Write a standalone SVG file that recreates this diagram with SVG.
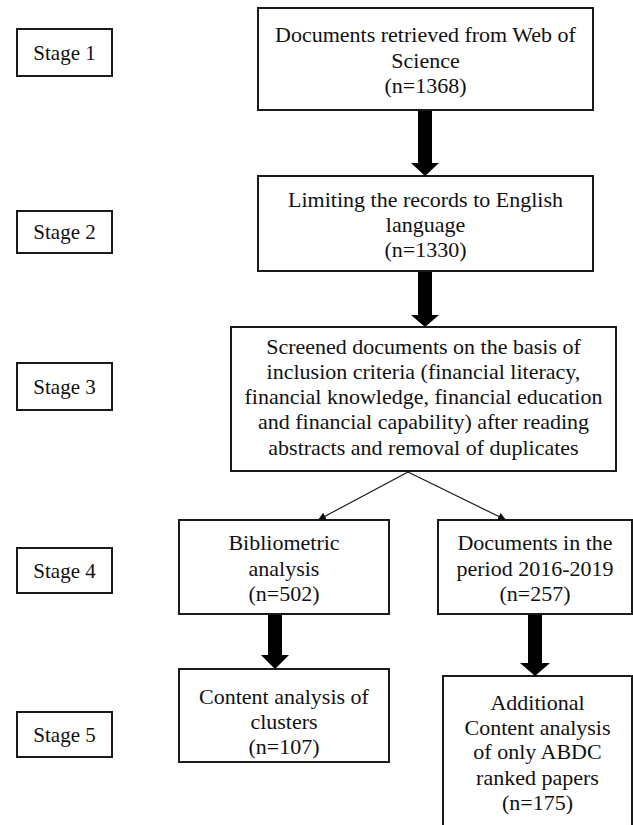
<svg xmlns="http://www.w3.org/2000/svg" width="633" height="825" viewBox="0 0 633 825">
<defs>
<style>
.box{fill:#fff;stroke:#1a1a1a;stroke-width:2}
.t{font-family:"Liberation Serif","Times New Roman",serif;font-size:22px;fill:#111;text-anchor:middle}
.s{font-family:"Liberation Serif","Times New Roman",serif;font-size:21px;fill:#111;text-anchor:middle}
.thin{stroke:#1a1a1a;stroke-width:1.2;fill:none}
</style>
<marker id="tri" viewBox="0 0 10 10" refX="10" refY="5" markerWidth="8" markerHeight="8" orient="auto" markerUnits="userSpaceOnUse">
<path d="M0,0 L10,5 L0,10 z" fill="#111"/>
</marker>
</defs>
<rect width="633" height="825" fill="#fff"/>

<g id="stage1"><rect class="box" x="17" y="29" width="95" height="47"/><text class="s" x="64.5" y="60">Stage 1</text></g>
<g id="stage2"><rect class="box" x="17" y="211" width="95" height="42"/><text class="s" x="64.5" y="239">Stage 2</text></g>
<g id="stage3"><rect class="box" x="17" y="363" width="95" height="47"/><text class="s" x="64.5" y="394">Stage 3</text></g>
<g id="stage4"><rect class="box" x="17" y="548" width="95" height="45"/><text class="s" x="64.5" y="578">Stage 4</text></g>
<g id="stage5"><rect class="box" x="17" y="712" width="95" height="45"/><text class="s" x="64.5" y="742">Stage 5</text></g>

<g id="n1"><rect class="box" x="258" y="8" width="335" height="102"/>
<text class="t" x="425.5" y="42">Documents retrieved from Web of</text>
<text class="t" x="425.5" y="68">Science</text>
<text class="t" x="425.5" y="93">(n=1368)</text></g>

<g id="n2"><rect class="box" x="258" y="176" width="335" height="95"/>
<text class="t" x="425.5" y="207">Limiting the records to English</text>
<text class="t" x="425.5" y="232">language</text>
<text class="t" x="425.5" y="257">(n=1330)</text></g>

<g id="n3"><rect class="box" x="231" y="327" width="385" height="144"/>
<text class="t" x="423.5" y="354">Screened documents on the basis of</text>
<text class="t" x="423.5" y="379">inclusion criteria (financial literacy,</text>
<text class="t" x="423.5" y="404">financial knowledge, financial education</text>
<text class="t" x="423.5" y="429">and financial capability) after reading</text>
<text class="t" x="423.5" y="455">abstracts and removal of duplicates</text></g>

<g id="n4a"><rect class="box" x="179" y="520" width="210" height="94"/>
<text class="t" x="284" y="550">Bibliometric</text>
<text class="t" x="284" y="576">analysis</text>
<text class="t" x="284" y="601">(n=502)</text></g>

<g id="n4b"><rect class="box" x="438" y="520" width="194" height="94"/>
<text class="t" x="535" y="550">Documents in the</text>
<text class="t" x="535" y="576">period 2016-2019</text>
<text class="t" x="535" y="601">(n=257)</text></g>

<g id="n5a"><rect class="box" x="179" y="669" width="210" height="93"/>
<text class="t" x="284" y="704">Content analysis of</text>
<text class="t" x="284" y="729">clusters</text>
<text class="t" x="284" y="754">(n=107)</text></g>

<g id="n5b"><rect class="box" x="443" y="676" width="189" height="170"/>
<text class="t" x="537.5" y="710">Additional</text>
<text class="t" x="537.5" y="735">Content analysis</text>
<text class="t" x="537.5" y="759">of only ABDC</text>
<text class="t" x="537.5" y="785">ranked papers</text>
<text class="t" x="537.5" y="810">(n=175)</text></g>

<g id="connectors" fill="#000">
<path d="M418,111 H432 V163 H439 L425,176 L411,163 H418 Z"/>
<path d="M418,272 H432 V315 H439 L425,327 L411,315 H418 Z"/>
<path d="M268,615 H282 V655 H289 L275,669 L261,655 H268 Z"/>
<path d="M528,615 H542 V663 H550 L535,676 L520,663 H528 Z"/>
<line class="thin" x1="408" y1="472" x2="318" y2="520" marker-end="url(#tri)"/>
<line class="thin" x1="408" y1="472" x2="506" y2="520" marker-end="url(#tri)"/>
</g>
</svg>
